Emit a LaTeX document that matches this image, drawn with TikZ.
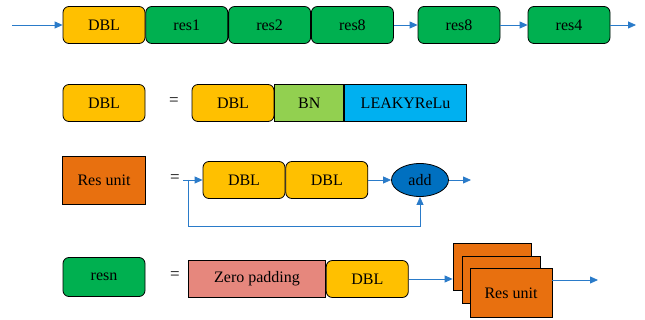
\documentclass[tikz,border=0pt]{standalone}
\usepackage{fontspec}
\setmainfont{Liberation Serif}
\newfontfamily\boxfont{Liberation Serif}
\usepackage{xcolor}
\usepackage{tikz}
\usetikzlibrary{arrows.meta, positioning, shapes.geometric}

\definecolor{dblc}{HTML}{FFC000}
\definecolor{resc}{HTML}{00B050}
\definecolor{bnc}{HTML}{92D050}
\definecolor{leakyc}{HTML}{00B0F0}
\definecolor{unitc}{HTML}{E8700F}
\definecolor{zpc}{HTML}{E6877D}
\definecolor{addc}{HTML}{0070C0}
\definecolor{arrc}{HTML}{2A7BC9}

\tikzset{
  blk/.style={draw=black, line width=0.8pt, inner sep=0pt, minimum height=37pt,
    font=\boxfont\fontsize{16}{18}\selectfont},
  dbl/.style={blk, rounded corners=6pt, fill=dblc, minimum width=82pt},
  resb/.style={blk, rounded corners=6pt, fill=resc, minimum width=82pt},
  sq/.style={blk, fill=#1},
  arr/.style={arrc, line width=0.8pt, -{Triangle[length=8pt,width=7pt]}},
  eq/.style={font=\boxfont\fontsize{17}{19}\selectfont}
}

\begin{document}
\begin{tikzpicture}[x=1pt,y=-1pt]
\useasboundingbox (0,0) rectangle (645,320);

% backbone
\coordinate (in1) at (12,25);
\node[dbl] (top0) at (104,25) {DBL};
\node[resb, right=0pt of top0] (top1) {res1};
\node[resb, right=0pt of top1] (top2) {res2};
\node[resb, right=0pt of top2] (top3) {res8};
\node[resb] (top4) at (459,25) {res8};
\node[resb] (top5) at (569,25) {res4};
\coordinate (out1) at (636,25);
\draw[arr] (in1) -- (top0);
\draw[arr] (top3) -- (top4);
\draw[arr] (top4) -- (top5);
\draw[arr] (top5) -- (out1);

% DBL
\node[dbl] (dblA) at (104,103) {DBL};
\node[eq] (eqA) at (174,102) {=};
\node[dbl] (dblB) at (233,103) {DBL};
\node[sq=bnc, minimum width=69pt, right=0pt of dblB] (bn) {BN};
\node[sq=leakyc, minimum width=122pt, right=0pt of bn] (leaky) {LEAKYReLu};

% Res unit
\node[sq=unitc, minimum width=83pt, minimum height=48pt] (unitA) at (104,180) {Res unit};
\node[eq] (eqB) at (175,179) {=};
\coordinate (in3) at (183,180);
\coordinate (fb) at (188,180);
\node[dbl] (unitD1) at (244,180) {DBL};
\node[dbl, right=0pt of unitD1] (unitD2) {DBL};
\node[blk, ellipse, fill=addc, minimum width=57pt, minimum height=33pt] (add) at (420,180) {add};
\coordinate (out3) at (471,180);
\draw[arr] (in3) -- (unitD1);
\draw[arr] (unitD2) -- (add);
\draw[arr] (add) -- (out3);
\draw[arr] (fb) -- ++(0,46) -| (add.south);

% resn
\node[resb, minimum height=39pt] (resn) at (104,277) {resn};
\node[eq] (eqC) at (175,276) {=};
\node[sq=zpc, minimum width=137pt] (zp) at (257,279) {Zero padding};
\node[dbl, right=0pt of zp] (dblC) {DBL};
\node[sq=unitc, minimum width=78pt, minimum height=47pt] (ru1) at (492,267) {};
\node[sq=unitc, minimum width=78pt, minimum height=47pt] (ru2) at (501,280) {};
\node[sq=unitc, minimum width=82pt, minimum height=49pt] (ru3) at (511,293) {Res unit};
\coordinate (out4) at (598,280);
\draw[arr] (dblC.east) -- (dblC.east -| ru1.west);
\draw[arr] (ru3.east |- out4) -- (out4);
\end{tikzpicture}
\end{document}
